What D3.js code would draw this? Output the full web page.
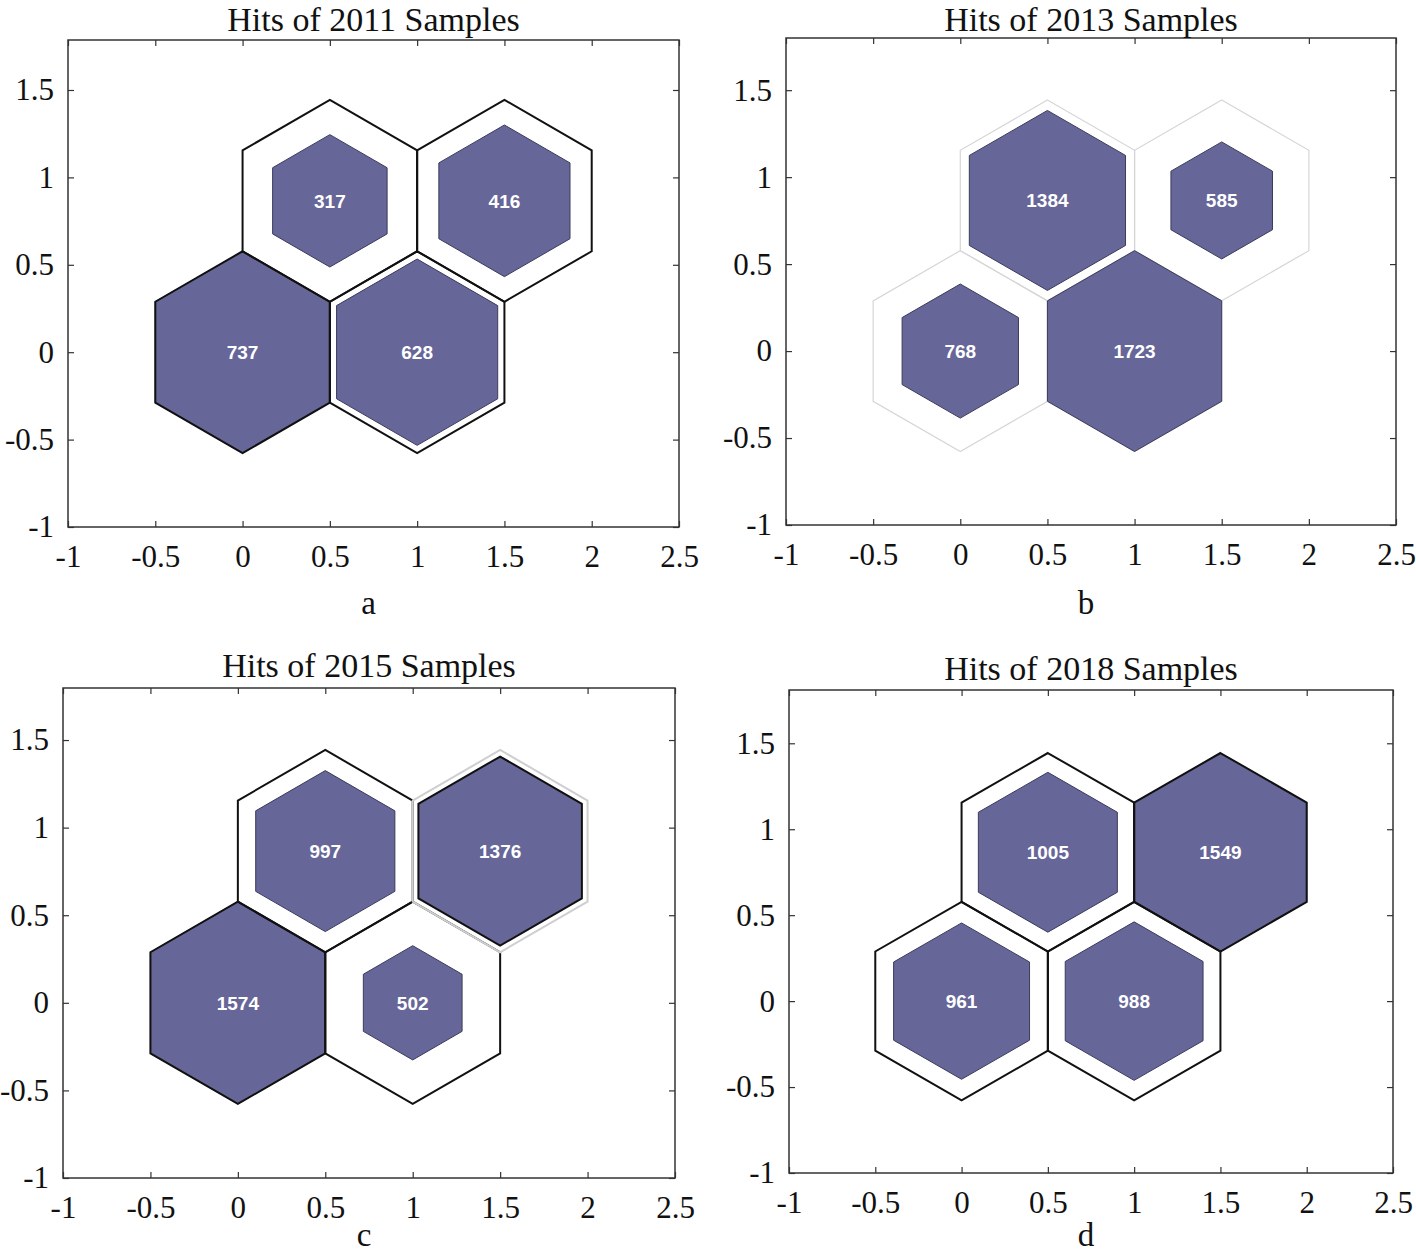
<!DOCTYPE html>
<html>
<head>
<meta charset="utf-8">
<script src="https://cdn.jsdelivr.net/npm/d3@7"></script>
<style>
  html, body { margin: 0; padding: 0; background: #fff; }
  svg { display: block; }
</style>
</head>
<body>
<svg id="chart" width="1416" height="1255"></svg>
<script>
// ---------------- DATA ----------------
const panelLetters = ["a", "b", "c", "d"];
const panelTitles = ["Hits of 2011 Samples", "Hits of 2013 Samples", "Hits of 2015 Samples", "Hits of 2018 Samples"];
// neuron positions of the 2x2 hexagonal SOM grid
const neuronX = [0, 1, 0.5, 1.5];
const neuronY = [0, 0, 0.866, 0.866];
// hits per neuron (same order as neuron positions)
const hits2011 = [737, 628, 317, 416];
const hits2013 = [768, 1723, 1384, 585];
const hits2015 = [1574, 502, 997, 1376];
const hits2018 = [961, 988, 1005, 1549];
const xTickValues = [-1, -0.5, 0, 0.5, 1, 1.5, 2, 2.5];
const yTickValues = [-1, -0.5, 0, 0.5, 1, 1.5];
const xDomain = [-1, 2.5];

const allHits = [hits2011, hits2013, hits2015, hits2018];

// ---------------- LAYOUT / STYLE ----------------
const layout = [
  { left: 68,  right: 679,  top: 40,  bottom: 527,  ymax: 1.786, titleY: 30.5, letterY: 614 },
  { left: 786, right: 1396, top: 38,  bottom: 525,  ymax: 1.80,  titleY: 30.5, letterY: 614 },
  { left: 63,  right: 675,  top: 688, bottom: 1178, ymax: 1.797, titleY: 677,  letterY: 1246 },
  { left: 789, right: 1393, top: 690, bottom: 1173, ymax: 1.81,  titleY: 680,  letterY: 1246 }
];
const styles = [
  { outline: ["#111", "#111", "#111", "#111"], outlineW: 2, onTop: true,  innerEdge: ["#3b3b5c", "#3b3b5c", "#3b3b5c", "#3b3b5c"], innerW: [1, 1, 1, 1] },
  { outline: ["#d6d6d6", "#d6d6d6", "#d6d6d6", "#d6d6d6"], outlineW: 1.2, onTop: false, innerEdge: ["#3b3b5c", "#3b3b5c", "#3b3b5c", "#3b3b5c"], innerW: [1, 1, 1, 1] },
  { outline: ["#111", "#111", "#111", "#cfcfcf"], outlineW: 2, onTop: true,  innerEdge: ["#3b3b5c", "#3b3b5c", "#3b3b5c", "#111"], innerW: [1, 1, 1, 2] },
  { outline: ["#111", "#111", "#111", "#111"], outlineW: 2, onTop: true,  innerEdge: ["#3b3b5c", "#3b3b5c", "#3b3b5c", "#3b3b5c"], innerW: [1, 1, 1, 1] }
];
const fillColor = "#666699";
const axisColor = "#333";
const serif = "'Liberation Serif', 'Times New Roman', serif";
const sans = "'Liberation Sans', Arial, sans-serif";

const svg = d3.select("#chart");
const hexR = 1 / Math.sqrt(3);
const angles = [90, 30, -30, -90, -150, 150].map(a => a * Math.PI / 180);

function hexPath(cx, cy, s, x, y) {
  const pts = angles.map(a => [x(cx + s * hexR * Math.cos(a)), y(cy + s * hexR * Math.sin(a))]);
  return d3.line()(pts) + "Z";
}

allHits.forEach((hits, p) => {
  const L = layout[p], S = styles[p];
  const x = d3.scaleLinear().domain(xDomain).range([L.left, L.right]);
  const y = d3.scaleLinear().domain([-1, L.ymax]).range([L.bottom, L.top]);
  const g = svg.append("g");

  const maxHit = d3.max(hits);
  const cells = hits.map((h, i) => ({ h, i, cx: neuronX[i], cy: neuronY[i], s: Math.sqrt(h / maxHit) }));

  const drawOutlines = () => {
    g.append("g").selectAll("path").data(cells).join("path")
      .attr("d", d => hexPath(d.cx, d.cy, 1, x, y))
      .attr("fill", "none")
      .attr("stroke", d => S.outline[d.i])
      .attr("stroke-width", S.outlineW)
      .attr("stroke-linejoin", "miter");
  };

  if (!S.onTop) drawOutlines();

  g.append("g").selectAll("path").data(cells).join("path")
    .attr("d", d => hexPath(d.cx, d.cy, d.s, x, y))
    .attr("fill", fillColor)
    .attr("stroke", d => S.innerEdge[d.i])
    .attr("stroke-width", d => S.innerW[d.i]);

  if (S.onTop) drawOutlines();

  g.append("g").selectAll("text").data(cells).join("text")
    .attr("x", d => x(d.cx))
    .attr("y", d => y(d.cy))
    .attr("dy", "0.36em")
    .attr("text-anchor", "middle")
    .attr("fill", "#fff")
    .attr("font-family", sans)
    .attr("font-weight", "bold")
    .attr("font-size", 19)
    .text(d => d.h);

  // axes (box with inward ticks on all sides)
  const tickLen = 6;
  const fmt = d => String(d);   // plain hyphen-minus like the reference
  const axB = d3.axisBottom(x).tickValues(xTickValues).tickSizeInner(-tickLen).tickSizeOuter(0).tickPadding(18).tickFormat(fmt);
  const axT = d3.axisTop(x).tickValues(xTickValues).tickSizeInner(-tickLen).tickSizeOuter(0).tickFormat("");
  const axL = d3.axisLeft(y).tickValues(yTickValues).tickSizeInner(-tickLen).tickSizeOuter(0).tickPadding(14).tickFormat(fmt);
  const axR = d3.axisRight(y).tickValues(yTickValues).tickSizeInner(-tickLen).tickSizeOuter(0).tickFormat("");

  const styleAxis = sel => {
    sel.selectAll("path.domain").remove();
    sel.selectAll("line").attr("stroke", axisColor).attr("stroke-width", 1.2);
    sel.selectAll("text").attr("font-family", serif).attr("font-size", 31).attr("fill", "#111");
  };
  g.append("g").attr("transform", `translate(0,${L.bottom})`).call(axB).call(styleAxis);
  g.append("g").attr("transform", `translate(0,${L.top})`).call(axT).call(styleAxis);
  g.append("g").attr("transform", `translate(${L.left},0)`).call(axL).call(styleAxis);
  g.append("g").attr("transform", `translate(${L.right},0)`).call(axR).call(styleAxis);

  g.append("rect")
    .attr("x", L.left).attr("y", L.top)
    .attr("width", L.right - L.left).attr("height", L.bottom - L.top)
    .attr("fill", "none").attr("stroke", axisColor).attr("stroke-width", 1.5);

  // title
  g.append("text")
    .attr("x", (L.left + L.right) / 2)
    .attr("y", L.titleY)
    .attr("text-anchor", "middle")
    .attr("font-family", serif)
    .attr("font-size", 34)
    .attr("fill", "#111")
    .text(panelTitles[p]);

  // panel letter
  g.append("text")
    .attr("x", (L.left + L.right) / 2 - 5)
    .attr("y", L.letterY)
    .attr("text-anchor", "middle")
    .attr("font-family", serif)
    .attr("font-size", 33)
    .attr("fill", "#111")
    .text(panelLetters[p]);
});
</script>
</body>
</html>
